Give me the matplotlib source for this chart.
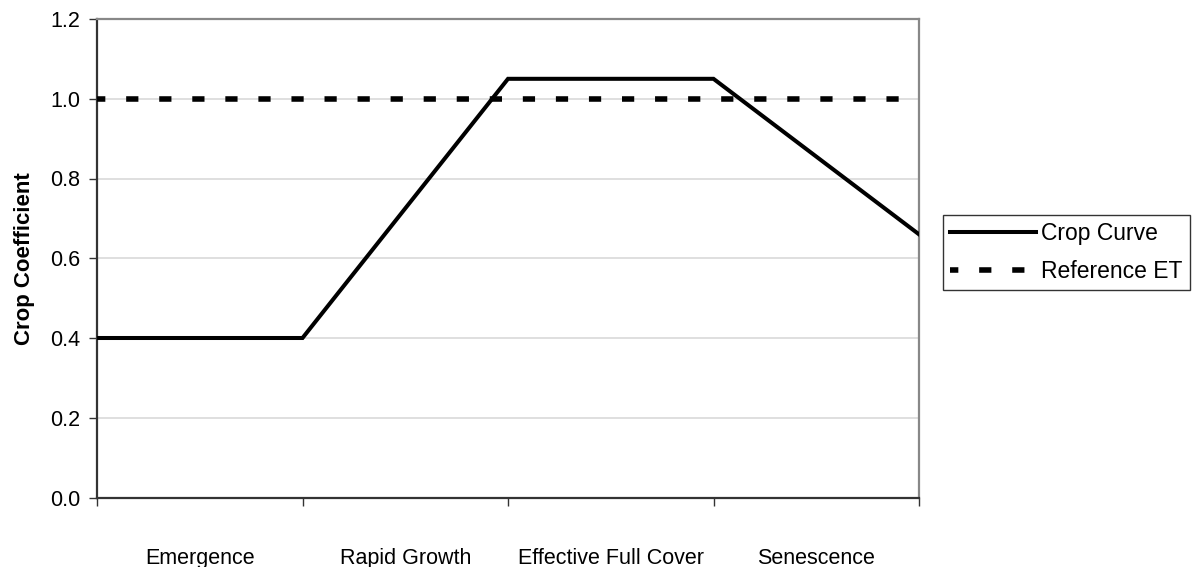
import matplotlib
matplotlib.use("Agg")
import matplotlib.pyplot as plt
import numpy as np

plt.rcParams['font.family'] = ['Liberation Sans', 'DejaVu Sans']

stages = ["Emergence", "Rapid Growth", "Effective Full Cover", "Senescence"]
boundaries = [0, 1, 2, 3, 4]
crop_curve = [0.40, 0.40, 1.05, 1.05, 0.66]
reference_et = [1.0, 1.0, 1.0, 1.0, 1.0]
yticks = [0.0, 0.2, 0.4, 0.6, 0.8, 1.0, 1.2]

FS = 15.5

fig = plt.figure(figsize=(11.92, 5.67), dpi=100)
ax = fig.add_axes([97/1192, 1 - 497.5/567, (919-97)/1192, (497.5-19)/567])

for y in yticks[1:-1]:
    ax.axhline(y, color='#d9d9d9', lw=1.2, zorder=0)

ax.plot(boundaries, reference_et, color='black', lw=4.0, linestyle=(0.7, (2.2, 3.75)),
        solid_capstyle='butt', dash_capstyle='butt', label='Reference ET', zorder=3)
ax.plot(boundaries, crop_curve, color='black', lw=2.9, label='Crop Curve', zorder=4,
        solid_joinstyle='miter')

ax.set_xlim(0, 4)
ax.set_ylim(0, 1.2)
ax.set_yticks(yticks)
ax.set_yticklabels([f"{v:.1f}" for v in yticks], fontsize=FS)
ax.set_xticks(boundaries)
ax.set_xticklabels([])
ax.set_xticks([b + 0.5 for b in boundaries[:-1]], minor=True)
ax.set_xticklabels(stages, minor=True, fontsize=FS)
ax.tick_params(axis='x', which='minor', length=0, pad=36.5)
ax.tick_params(axis='x', which='major', length=6, width=1, color='#333333')
ax.tick_params(axis='y', length=6, width=1, color='#333333', pad=6)

for side in ['top', 'right']:
    ax.spines[side].set_color('#888888')
    ax.spines[side].set_linewidth(1.6)
for side in ['left', 'bottom']:
    ax.spines[side].set_color('#333333')
    ax.spines[side].set_linewidth(1.6)

ax.set_ylabel("Crop Coefficient", fontsize=16, fontweight='bold', labelpad=11)

handles, labels = ax.get_legend_handles_labels()
order = [1, 0]
leg = fig.legend([handles[i] for i in order], [labels[i] for i in order],
                 loc='upper left', bbox_to_anchor=(943/1192, 1 - 215/567),
                 fontsize=16.5, frameon=True, fancybox=False, edgecolor='black',
                 handlelength=3.75, handletextpad=0.22, borderpad=0.31,
                 labelspacing=0.63, borderaxespad=0)
leg.get_frame().set_linewidth(1.0)

fig.savefig("out.png", dpi=100)
